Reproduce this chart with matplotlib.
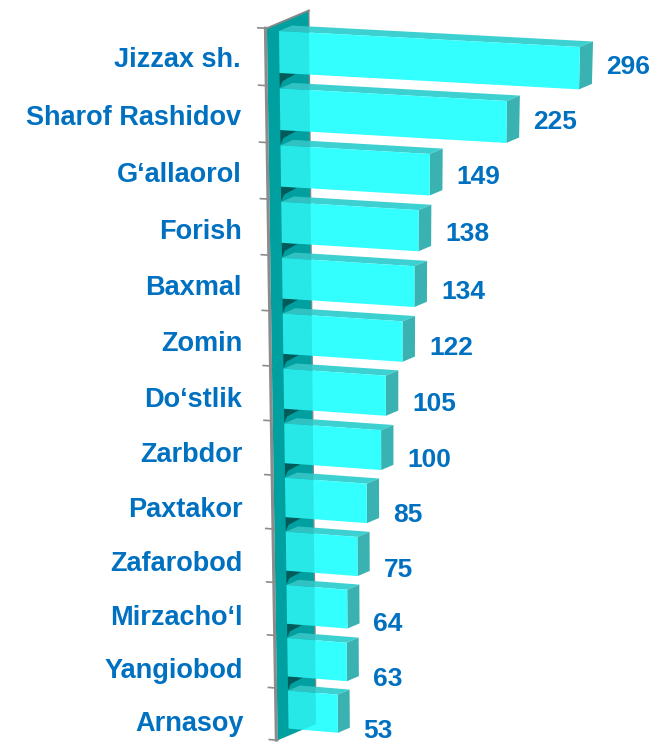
import numpy as np
import matplotlib.pyplot as plt
from matplotlib.patches import Polygon

# Jizzax viloyati tumanlari bo'yicha ko'rsatkich
districts = ["Jizzax sh.", "Sharof Rashidov", "G\u2018allaorol", "Forish", "Baxmal",
             "Zomin", "Do\u2018stlik", "Zarbdor", "Paxtakor", "Zafarobod",
             "Mirzacho\u2018l", "Yangiobod", "Arnasoy"]
counts = [296, 225, 149, 138, 134, 122, 105, 100, 85, 75, 64, 63, 53]

FRONT = "#33FFFF"
TOP = "#3DD0D0"
SIDE = "#3AB2B2"
FLOOR = "#00A6A6"
SHADOW = "#00504F"
EDGE = "#8C8C8C"
TEXT = "#0070C0"

BAR_H = 0.73      # bar thickness as share of a category slot
SLOT0 = -0.135    # slot boundary offset
D_FRONT, D_BACK = -0.92, 2.3   # depth extent of the base wall


def proj(u, w, d):
    # simple perspective-ish mapping: value u, category slot w, depth d -> pixels
    u = np.asarray(u, dtype=float)
    w = np.asarray(w, dtype=float)
    d = np.asarray(d, dtype=float)
    sc = 1.0 / (1.0 + 0.0072 * w)
    x = 279 + 0.75 * w + sc * (1.017 * u + 13 * d)
    y = 31 + 57.6 * w - 0.22 * w * w + sc * ((0.054 + 0.0025 * w) * u - 5.5 * d)
    return x, y


def face(pts, color, z, **kw):
    xy = [proj(*p) for p in pts]
    ax.add_patch(Polygon(xy, closed=True, facecolor=color, edgecolor="none",
                         zorder=z, **kw))


fig = plt.figure(figsize=(6.53, 7.42), dpi=100)
ax = fig.add_axes([0, 0, 1, 1])
ax.set_xlim(0, 653)
ax.set_ylim(742, 0)
ax.axis("off")

n = len(counts)
w_end = n + SLOT0
ws = np.linspace(SLOT0, w_end, 60)

# base wall the bars stand on
front_x, front_y = proj(0, ws, D_FRONT)
back_x, back_y = proj(0, ws, D_BACK)
wall = np.column_stack([np.r_[front_x, back_x[::-1]], np.r_[front_y, back_y[::-1]]])
ax.add_patch(Polygon(wall, closed=True, facecolor=FLOOR, edgecolor="none", zorder=1))
ax.plot(back_x, back_y, color=EDGE, lw=1, zorder=1.5)
tx, ty = proj([0, 0], [SLOT0, SLOT0], [D_FRONT, D_BACK])
ax.plot(tx, ty, color=EDGE, lw=1.5, zorder=1.5)
ex, ey = proj(-1.5, ws, D_FRONT)
ax.plot(ex, ey, color=EDGE, lw=2.2, zorder=1.5)

# category ticks
for i in range(n + 1):
    kx, ky = proj([-9, 0], [i + SLOT0] * 2, [D_FRONT] * 2)
    ax.plot(kx, ky, color=EDGE, lw=1.2, zorder=1.5)

# dark wedges in the gaps under each bar
for i in range(n - 1):
    wb = i + BAR_H
    face([(0, wb, 0), (16, wb, 0), (3, wb + 0.14, 0), (0, wb + 0.26, 0)], SHADOW, 2)

# bars
for i, v in enumerate(counts):
    t, b = i, i + BAR_H
    face([(0, t, 0), (v, t, 0), (v, t, 1), (0, t, 1)], TOP, 3)
    face([(v, t, 0), (v, t, 1), (v, b, 1), (v, b, 0)], SIDE, 3)
    face([(0, t, 0), (v, t, 0), (v, b, 0), (0, b, 0)], FRONT, 3)

    lx, ly = proj(v, i + BAR_H / 2, 1)
    ax.text(lx + 14, ly + 4 + min(1.6 * i, 18), str(v), ha="left", va="center",
            color=TEXT, fontsize=19, fontweight="bold", family="Liberation Sans",
            zorder=5)

    cx, cy = proj(0, i + BAR_H / 2, D_FRONT)
    ax.text(241 + 0.2 * i, cy + 3 + 0.55 * i, districts[i], ha="right", va="center",
            color=TEXT, fontsize=19.5, fontweight="bold", family="Liberation Sans",
            zorder=5)

# the wall shows through the translucent bars
ax.add_patch(Polygon(wall, closed=True, facecolor="#008A8A", edgecolor="none",
                     alpha=0.2, zorder=4))

fig.savefig("out.png", dpi=100)
